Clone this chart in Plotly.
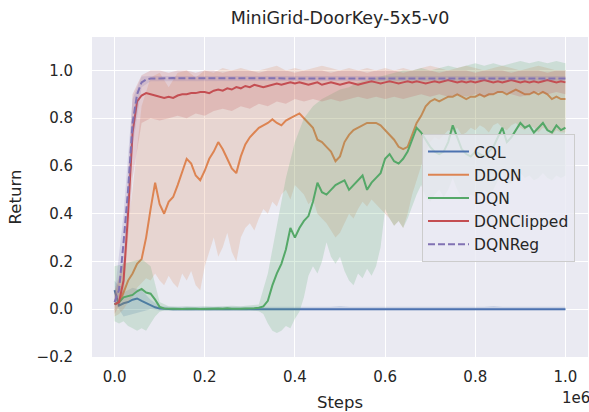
import plotly.graph_objects as go

# Training steps in units of 1e6 (fine samples every 10k steps, coarse every 20k)
steps = [k / 100 for k in range(101)]
band_steps = [k / 50 for k in range(51)]

series_names = ["CQL", "DDQN", "DQN", "DQNClipped", "DQNReg"]
series_colors = ["#4C72B0", "#DD8452", "#55A868", "#C44E52", "#8172B3"]

# Mean return per algorithm (on steps)
cql_mean = [0.08, 0.015, 0.025, 0.03, 0.04, 0.045, 0.035, 0.025, 0.015, 0.008,
            0.003, 0.001, 0.0, 0.0, 0.0, 0.0, 0.0, 0.0, 0.0, 0.0,
            0.0, 0.0, 0.0, 0.0, 0.0, 0.0, 0.0, 0.0, 0.0, 0.0,
            0.0, 0.0, 0.0, 0.0, 0.0, 0.0, 0.0, 0.0, 0.0, 0.0,
            0.0, 0.0, 0.0, 0.0, 0.0, 0.0, 0.0, 0.0, 0.0, 0.001,
            0.002, 0.001, 0.0, 0.0, 0.0, 0.0, 0.0, 0.0, 0.0, 0.0,
            0.0, 0.0, 0.0, 0.0, 0.0, 0.0, 0.0, 0.0, 0.0, 0.0,
            0.0, 0.0, 0.0, 0.0, 0.0, 0.0, 0.0, 0.0, 0.0, 0.0,
            0.0, 0.0, 0.0, 0.0, 0.001, 0.002, 0.001, 0.0, 0.0, 0.0,
            0.0, 0.0, 0.0, 0.0, 0.0, 0.0, 0.0, 0.0, 0.0, 0.0,
            0.0]
ddqn_mean = [0.02, 0.03, 0.07, 0.12, 0.15, 0.19, 0.21, 0.30, 0.42, 0.53,
             0.44, 0.40, 0.45, 0.47, 0.52, 0.58, 0.63, 0.61, 0.56, 0.54,
             0.58, 0.63, 0.66, 0.70, 0.67, 0.63, 0.59, 0.57, 0.64, 0.69,
             0.72, 0.74, 0.76, 0.77, 0.78, 0.795, 0.78, 0.77, 0.79, 0.80,
             0.81, 0.82, 0.80, 0.78, 0.76, 0.71, 0.70, 0.68, 0.66, 0.62,
             0.64, 0.70, 0.73, 0.75, 0.76, 0.77, 0.78, 0.78, 0.78, 0.77,
             0.75, 0.73, 0.71, 0.68, 0.67, 0.68, 0.73, 0.78, 0.81, 0.85,
             0.87, 0.88, 0.87, 0.88, 0.89, 0.89, 0.90, 0.89, 0.88, 0.89,
             0.89, 0.90, 0.89, 0.90, 0.90, 0.91, 0.91, 0.90, 0.91, 0.92,
             0.91, 0.90, 0.90, 0.91, 0.90, 0.91, 0.90, 0.88, 0.89, 0.88,
             0.88]
dqn_mean = [0.02, 0.03, 0.05, 0.055, 0.06, 0.075, 0.085, 0.07, 0.065, 0.04,
            0.01, 0.003, 0.002, 0.001, 0.002, 0.001, 0.002, 0.003, 0.002, 0.001,
            0.002, 0.002, 0.001, 0.003, 0.002, 0.004, 0.002, 0.001, 0.002, 0.003,
            0.002, 0.004, 0.006, 0.012, 0.035, 0.10, 0.15, 0.19, 0.25, 0.34,
            0.30, 0.34, 0.37, 0.39, 0.45, 0.53, 0.49, 0.48, 0.50, 0.52,
            0.53, 0.54, 0.50, 0.52, 0.54, 0.56, 0.50, 0.53, 0.55, 0.57,
            0.63, 0.65, 0.62, 0.61, 0.63, 0.66, 0.71, 0.76, 0.74, 0.71,
            0.68, 0.66, 0.65, 0.66, 0.70, 0.77, 0.72, 0.67, 0.65, 0.64,
            0.66, 0.65, 0.64, 0.66, 0.68, 0.72, 0.76, 0.70, 0.72, 0.75,
            0.78, 0.76, 0.77, 0.74, 0.76, 0.78, 0.75, 0.74, 0.77, 0.75,
            0.76]
dqnclipped_mean = [0.02, 0.03, 0.12, 0.40, 0.74, 0.87, 0.895, 0.905, 0.90, 0.895,
                   0.89, 0.885, 0.89, 0.885, 0.895, 0.90, 0.90, 0.905, 0.905, 0.91,
                   0.91, 0.905, 0.915, 0.92, 0.915, 0.925, 0.92, 0.93, 0.925, 0.935,
                   0.93, 0.94, 0.935, 0.93, 0.935, 0.94, 0.945, 0.94, 0.945, 0.95,
                   0.945, 0.95, 0.945, 0.94, 0.945, 0.95, 0.94, 0.945, 0.95, 0.945,
                   0.94, 0.945, 0.95, 0.945, 0.94, 0.945, 0.95, 0.955, 0.95, 0.945,
                   0.95, 0.955, 0.95, 0.945, 0.95, 0.955, 0.95, 0.955, 0.95, 0.945,
                   0.95, 0.955, 0.95, 0.955, 0.96, 0.955, 0.95, 0.955, 0.95, 0.955,
                   0.95, 0.955, 0.96, 0.955, 0.95, 0.955, 0.95, 0.955, 0.96, 0.955,
                   0.95, 0.955, 0.95, 0.955, 0.95, 0.955, 0.96, 0.955, 0.95, 0.955,
                   0.95]
dqnreg_mean = [0.03, 0.08, 0.28, 0.50, 0.78, 0.90, 0.95, 0.962, 0.966, 0.967,
               0.967, 0.966, 0.967, 0.968, 0.967, 0.967, 0.966, 0.967, 0.967, 0.968,
               0.967, 0.967, 0.966, 0.967, 0.967, 0.967, 0.968, 0.967, 0.967, 0.966,
               0.967, 0.967, 0.967, 0.968, 0.967, 0.966, 0.967, 0.967, 0.967, 0.968,
               0.967, 0.967, 0.966, 0.967, 0.967, 0.967, 0.968, 0.967, 0.967, 0.966,
               0.967, 0.967, 0.967, 0.968, 0.967, 0.966, 0.967, 0.967, 0.967, 0.968,
               0.967, 0.967, 0.966, 0.967, 0.967, 0.967, 0.968, 0.967, 0.967, 0.966,
               0.967, 0.967, 0.967, 0.968, 0.967, 0.966, 0.967, 0.967, 0.967, 0.968,
               0.967, 0.967, 0.966, 0.967, 0.967, 0.967, 0.968, 0.967, 0.967, 0.966,
               0.967, 0.967, 0.967, 0.968, 0.967, 0.966, 0.967, 0.967, 0.967, 0.966,
               0.966]

# Confidence band bounds: upper bounds on band_steps; DDQN/DQN lower bounds on steps
cql_lo = [0.03, -0.03, -0.02, -0.01, 0.0, -0.005, -0.004, -0.004, -0.004, -0.004,
          -0.004, -0.004, -0.004, -0.004, -0.004, -0.004, -0.004, -0.004, -0.004, -0.004,
          -0.004, -0.004, -0.004, -0.004, -0.004, -0.004, -0.004, -0.004, -0.004, -0.004,
          -0.004, -0.004, -0.004, -0.004, -0.004, -0.004, -0.004, -0.004, -0.004, -0.004,
          -0.004, -0.004, -0.004, -0.004, -0.004, -0.004, -0.004, -0.004, -0.004, -0.004,
          -0.004]
cql_hi = [0.12, 0.07, 0.09, 0.08, 0.04, 0.012, 0.01, 0.01, 0.01, 0.01,
          0.01, 0.01, 0.01, 0.01, 0.01, 0.01, 0.01, 0.01, 0.01, 0.01,
          0.01, 0.01, 0.01, 0.01, 0.01, 0.014, 0.01, 0.01, 0.01, 0.01,
          0.01, 0.01, 0.01, 0.01, 0.01, 0.01, 0.01, 0.01, 0.01, 0.01,
          0.01, 0.01, 0.014, 0.01, 0.01, 0.01, 0.01, 0.01, 0.01, 0.01,
          0.01]
ddqn_lo = [-0.03, -0.02, 0.0, 0.03, 0.05, 0.09, 0.11, 0.13, 0.12, 0.15,
           0.12, 0.10, 0.14, 0.11, 0.09, 0.15, 0.12, 0.16, 0.10, 0.08,
           0.18, 0.24, 0.30, 0.22, 0.26, 0.32, 0.24, 0.20, 0.30, 0.34,
           0.36, 0.33, 0.38, 0.42, 0.40, 0.45, 0.43, 0.48, 0.50, 0.46,
           0.52, 0.50, 0.48, 0.44, 0.46, 0.40, 0.38, 0.36, 0.33, 0.30,
           0.32, 0.36, 0.40, 0.38, 0.42, 0.45, 0.43, 0.46, 0.44, 0.42,
           0.40, 0.38, 0.35, 0.37, 0.34, 0.40, 0.48, 0.55, 0.60, 0.66,
           0.70, 0.72, 0.71, 0.73, 0.75, 0.74, 0.76, 0.73, 0.74, 0.76,
           0.75, 0.77, 0.76, 0.74, 0.77, 0.78, 0.76, 0.75, 0.77, 0.78,
           0.76, 0.75, 0.77, 0.76, 0.74, 0.76, 0.75, 0.73, 0.75, 0.74,
           0.74]
ddqn_hi = [0.08, 0.20, 0.50, 0.85, 0.97, 0.99, 0.93, 0.99, 1.0, 0.97,
           1.0, 0.99, 1.01, 1.0, 1.01, 1.0, 1.0, 1.01, 1.02, 1.0,
           1.01, 1.0, 1.01, 1.02, 1.01, 1.0, 1.01, 1.0, 1.01, 1.0,
           1.01, 1.0, 1.01, 1.0, 1.01, 1.02, 1.01, 1.0, 1.01, 1.02,
           1.01, 1.0, 1.01, 1.02, 1.01, 1.0, 1.01, 1.02, 1.01, 1.0,
           1.0]
dqn_lo = [-0.05, -0.06, -0.05, -0.07, -0.08, -0.09, -0.08, -0.09, -0.06, -0.03,
          -0.01, -0.005, -0.004, -0.006, -0.005, -0.004, -0.005, -0.006, -0.005, -0.004,
          -0.005, -0.006, -0.005, -0.004, -0.005, -0.006, -0.005, -0.004, -0.005, -0.006,
          -0.005, -0.006, -0.008, -0.02, -0.06, -0.09, -0.10, -0.09, -0.07, -0.08,
          -0.04, -0.01, 0.05, 0.14, 0.18, 0.15, 0.20, 0.28, 0.22, 0.19,
          0.22, 0.16, 0.12, 0.10, 0.15, 0.13, 0.17, 0.14, 0.18, 0.26,
          0.42, 0.38, 0.35, 0.37, 0.34, 0.38, 0.43, 0.48, 0.52, 0.47,
          0.45, 0.48, 0.50, 0.47, 0.50, 0.55, 0.50, 0.47, 0.46, 0.48,
          0.47, 0.49, 0.50, 0.48, 0.50, 0.54, 0.57, 0.52, 0.53, 0.55,
          0.57, 0.55, 0.56, 0.54, 0.55, 0.57, 0.55, 0.54, 0.56, 0.55,
          0.56]
dqn_hi = [0.18, 0.19, 0.20, 0.21, 0.18, 0.03, 0.012, 0.01, 0.012, 0.01,
          0.012, 0.01, 0.012, 0.015, 0.012, 0.015, 0.02, 0.15, 0.35, 0.55,
          0.70, 0.80, 0.85, 0.88, 0.90, 0.92, 0.93, 0.95, 0.96, 0.97,
          0.98, 0.99, 1.0, 1.0, 1.01, 1.0, 1.01, 1.02, 1.01, 1.02,
          1.03, 1.02, 1.03, 1.02, 1.03, 1.04, 1.03, 1.04, 1.03, 1.04,
          1.03]
dqnclipped_lo = [-0.02, 0.05, 0.55, 0.78, 0.80, 0.79, 0.80, 0.81, 0.80, 0.82,
                 0.81, 0.83, 0.84, 0.83, 0.85, 0.84, 0.86, 0.85, 0.87, 0.86,
                 0.88, 0.87, 0.88, 0.87, 0.88, 0.87, 0.88, 0.89, 0.88, 0.89,
                 0.88, 0.89, 0.88, 0.89, 0.90, 0.89, 0.90, 0.89, 0.90, 0.89,
                 0.90, 0.89, 0.90, 0.91, 0.90, 0.89, 0.90, 0.91, 0.90, 0.91,
                 0.90]
dqnclipped_hi = [0.06, 0.20, 0.90, 0.98, 1.0, 1.0, 0.99, 1.0, 1.0, 0.99,
                 1.0, 1.0, 0.99, 1.0, 1.0, 1.0, 0.99, 1.0, 1.0, 1.0,
                 0.99, 1.0, 1.0, 1.0, 0.99, 1.0, 1.0, 1.0, 0.99, 1.0,
                 1.0, 1.0, 0.99, 1.0, 1.0, 1.0, 0.99, 1.0, 1.0, 1.0,
                 0.99, 1.0, 1.0, 1.0, 0.99, 1.0, 1.0, 1.0, 0.99, 1.0,
                 1.0]
dqnreg_lo = [0.0, 0.18, 0.68, 0.93, 0.955, 0.957, 0.957, 0.957, 0.957, 0.957,
             0.957, 0.957, 0.957, 0.957, 0.957, 0.957, 0.957, 0.957, 0.957, 0.957,
             0.957, 0.957, 0.957, 0.957, 0.957, 0.957, 0.957, 0.957, 0.957, 0.957,
             0.957, 0.957, 0.957, 0.957, 0.957, 0.957, 0.957, 0.957, 0.957, 0.957,
             0.957, 0.957, 0.957, 0.957, 0.957, 0.957, 0.957, 0.957, 0.957, 0.957,
             0.957]
dqnreg_hi = [0.06, 0.40, 0.88, 0.975, 0.977, 0.977, 0.977, 0.977, 0.977, 0.977,
             0.977, 0.977, 0.977, 0.977, 0.977, 0.977, 0.977, 0.977, 0.977, 0.977,
             0.977, 0.977, 0.977, 0.977, 0.977, 0.977, 0.977, 0.977, 0.977, 0.977,
             0.977, 0.977, 0.977, 0.977, 0.977, 0.977, 0.977, 0.977, 0.977, 0.977,
             0.977, 0.977, 0.977, 0.977, 0.977, 0.977, 0.977, 0.977, 0.977, 0.977,
             0.977]

x_ticks = [0.0, 0.2, 0.4, 0.6, 0.8, 1.0]
y_ticks = [-0.2, 0.0, 0.2, 0.4, 0.6, 0.8, 1.0]

means = [cql_mean, ddqn_mean, dqn_mean, dqnclipped_mean, dqnreg_mean]
lows = [cql_lo, ddqn_lo, dqn_lo, dqnclipped_lo, dqnreg_lo]
highs = [cql_hi, ddqn_hi, dqn_hi, dqnclipped_hi, dqnreg_hi]
dashes = ["solid", "solid", "solid", "solid", "7px,3px"]


def rgba(hex_color, alpha):
    h = hex_color.lstrip("#")
    r, g, b = int(h[0:2], 16), int(h[2:4], 16), int(h[4:6], 16)
    return f"rgba({r},{g},{b},{alpha})"


def grid_for(values):
    return steps if len(values) == len(steps) else band_steps


fig = go.Figure()
for name, color, mean, lo, hi, dash in zip(series_names, series_colors, means, lows, highs, dashes):
    x_hi, x_lo = grid_for(hi), grid_for(lo)
    fig.add_trace(go.Scatter(
        x=x_hi + x_lo[::-1],
        y=hi + lo[::-1],
        fill="toself",
        fillcolor=rgba(color, 0.2),
        line=dict(width=0),
        mode="lines",
        hoverinfo="skip",
        showlegend=False,
    ))
    fig.add_trace(go.Scatter(
        x=steps,
        y=mean,
        mode="lines",
        name=name,
        line=dict(color=color, width=2, dash=dash),
    ))

text_color = "#262626"
font_family = "DejaVu Sans"

fig.update_layout(
    width=589,
    height=412,
    margin=dict(l=92, r=1, t=37, b=55),
    paper_bgcolor="white",
    plot_bgcolor="#EAEAF2",
    font=dict(family=font_family, color=text_color, size=15),
    title=dict(
        text="MiniGrid-DoorKey-5x5-v0",
        x=(92 + 588) / 2 / 589,
        xanchor="center",
        y=1 - 18 / 412,
        yanchor="middle",
        font=dict(size=17.5, color=text_color),
    ),
    xaxis=dict(
        range=[-0.05, 1.05],
        tickvals=x_ticks,
        tickformat=".1f",
        showgrid=True,
        gridcolor="white",
        gridwidth=1.3,
        zeroline=False,
        showline=False,
        ticks="",
        ticklabelstandoff=9,
        tickfont=dict(size=15, color=text_color),
        title=dict(text="Steps", font=dict(size=16.5, color=text_color), standoff=11),
    ),
    yaxis=dict(
        range=[-0.2, 1.14],
        tickvals=y_ticks,
        tickformat=".1f",
        showgrid=True,
        gridcolor="white",
        gridwidth=1.3,
        zeroline=False,
        showline=False,
        ticks="",
        ticklabelstandoff=18,
        tickfont=dict(size=15, color=text_color),
        title=dict(text="Return", font=dict(size=16.5, color=text_color), standoff=10),
    ),
    legend=dict(
        x=(422 - 92) / 496,
        y=(357 - 134) / 320,
        xanchor="left",
        yanchor="top",
        bgcolor="rgba(234,234,242,0.8)",
        bordercolor="#CCCCCC",
        borderwidth=1,
        font=dict(size=15.5, color=text_color),
        itemwidth=41,
        tracegroupgap=0,
    ),
    annotations=[
        dict(
            text="1e6",
            xref="paper",
            yref="paper",
            x=(576 - 92) / 496,
            y=(357 - 398) / 320,
            xanchor="center",
            yanchor="middle",
            showarrow=False,
            font=dict(size=15, color=text_color),
        )
    ],
)

fig.write_html("out.html")
